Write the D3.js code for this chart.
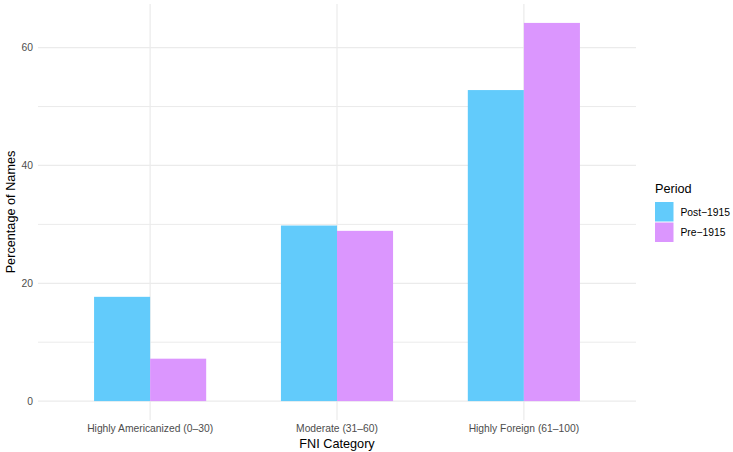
<!DOCTYPE html>
<html><head><meta charset="utf-8">
<script src="https://cdn.jsdelivr.net/npm/d3@7"></script>
<style>body{margin:0;background:#fff}text{font-family:"Liberation Sans",Arial,sans-serif}</style>
</head><body><svg id="c" width="733" height="452"></svg>
<script>
const categories = ["Highly Americanized (0\u201330)", "Moderate (31\u201360)", "Highly Foreign (61\u2013100)"];
const periods = ["Post\u22121915", "Pre\u22121915"];
const postValues = [17.7, 29.8, 52.8];
const preValues = [7.2, 28.9, 64.2];
const yTicks = [0, 20, 40, 60];
const yMinor = [10, 30, 50];
const colors = ["#62CBFB", "#DB96FE"];

(function () {
const svg = d3.select("#c");
const pL = 38, pR = 636, pT = 4, pB = 420;
// ggplot discrete: positions at 1..3 with 0.6 expansion
const xc = d3.scaleLinear().domain([0.4, 3.6]).range([pL, pR]);
const ymax = d3.max(preValues.concat(postValues));
const y = d3.scaleLinear().domain([-0.05 * ymax, ymax * 1.05]).range([pB, pT]);

const g = svg.append("g");
yMinor.forEach(v => g.append("line").attr("x1", pL).attr("x2", pR).attr("y1", y(v)).attr("y2", y(v)).attr("stroke", "#ebebeb").attr("stroke-width", 1));
yTicks.forEach(v => g.append("line").attr("x1", pL).attr("x2", pR).attr("y1", y(v)).attr("y2", y(v)).attr("stroke", "#ebebeb").attr("stroke-width", 1.2));
categories.forEach((c, i) => g.append("line").attr("x1", xc(i + 1)).attr("x2", xc(i + 1)).attr("y1", pT).attr("y2", pB).attr("stroke", "#ebebeb").attr("stroke-width", 1.2));

const bw = xc(0.3) - xc(0);
const series = [postValues, preValues];
series.forEach((vals, s) => {
  g.selectAll(null).data(vals).enter().append("rect")
    .attr("x", (d, i) => xc(i + 1) - bw + s * bw)
    .attr("width", bw)
    .attr("y", d => y(d))
    .attr("height", d => y(0) - y(d))
    .attr("fill", colors[s]);
});

yTicks.forEach(v => svg.append("text").attr("x", 33).attr("y", y(v)).attr("dy", "0.35em").attr("text-anchor", "end").attr("font-size", 10.3).attr("fill", "#4d4d4d").text(v));
categories.forEach((c, i) => svg.append("text").attr("x", xc(i + 1)).attr("y", 432).attr("text-anchor", "middle").attr("font-size", 10.3).attr("fill", "#4d4d4d").text(c));
svg.append("text").attr("x", xc(2)).attr("y", 447.5).attr("text-anchor", "middle").attr("font-size", 12.7).attr("fill", "#000").text("FNI Category");
svg.append("text").attr("transform", `translate(15,${(pT + pB) / 2}) rotate(-90)`).attr("text-anchor", "middle").attr("font-size", 12.7).attr("fill", "#000").text("Percentage of Names");

const lg = svg.append("g").attr("transform", "translate(655,0)");
lg.append("text").attr("x", 0).attr("y", 193).attr("font-size", 12.7).attr("fill", "#000").text("Period");
periods.forEach((p, i) => {
  lg.append("rect").attr("x", 0).attr("y", 202 + i * 20.5).attr("width", 18.5).attr("height", 19.5).attr("fill", colors[i]);
  lg.append("text").attr("x", 25.5).attr("y", 212 + i * 20.5).attr("dy", "0.35em").attr("font-size", 10.3).attr("fill", "#000").text(p);
});
})();
</script></body></html>
